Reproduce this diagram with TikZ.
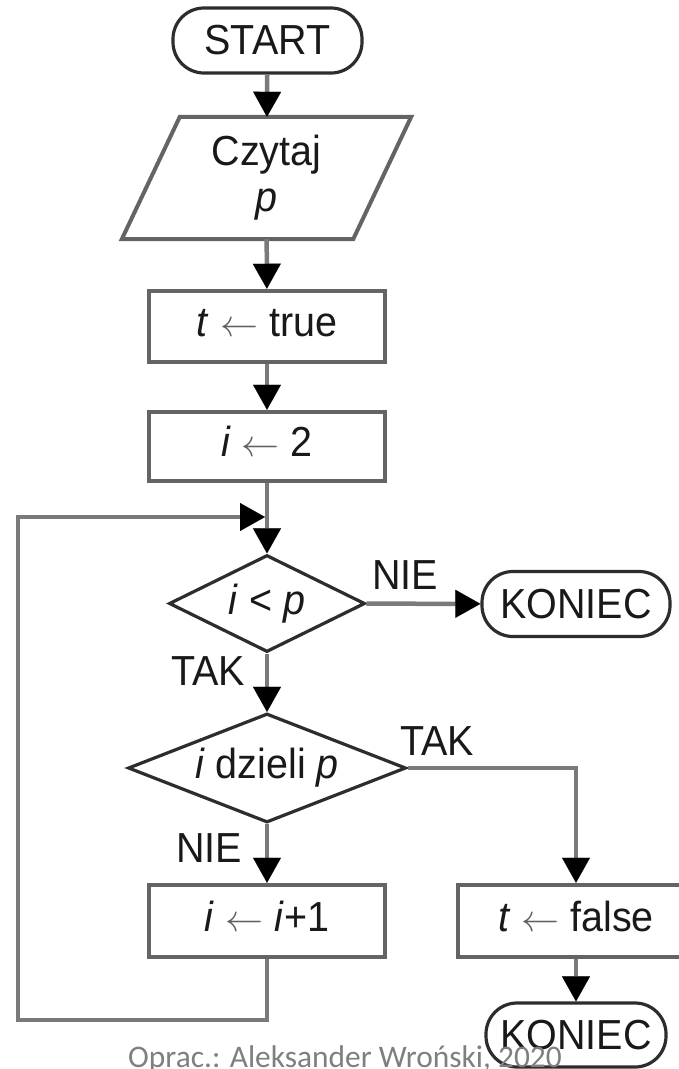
\documentclass[tikz,border=0pt]{standalone}
\usepackage{graphicx}
\usepackage{fontspec}
\setmainfont[FakeStretch=0.94]{Liberation Sans}
\newfontfamily\footfont{Carlito}
\usetikzlibrary{arrows.meta,shapes.geometric}

\definecolor{linegray}{RGB}{122,122,122}
\definecolor{boxedge}{RGB}{100,100,100}
\definecolor{edgedark}{RGB}{45,45,45}
\definecolor{footgray}{RGB}{127,127,127}
\definecolor{textdark}{RGB}{25,25,25}
\definecolor{arrowgray}{RGB}{95,95,95}

% assignment arrow used inside the process boxes
\newcommand{\asg}{{\color{arrowgray}\scalebox{3.8}{\fontsize{10}{12}\selectfont$\leftarrow$}}}

\tikzset{
  every node/.style={font=\fontsize{42}{46}\selectfont, text=textdark, inner sep=0pt},
  stadium/.style={draw=edgedark, line width=3.2pt, rounded corners=31pt,
    minimum height=65pt, fill=white},
  procbox/.style={draw=boxedge, line width=4.5pt, minimum width=236pt,
    minimum height=71pt, text height=26pt, text depth=6pt},
  decision/.style={diamond, draw=edgedark, line width=3.2pt},
  link/.style={draw=linegray, line width=4.5pt},
  flow/.style={link, -{Triangle[length=25pt,width=28pt,line width=0.1pt,color=black]}},
}

\begin{document}
\begin{tikzpicture}[x=1pt,y=-1pt]
  \fill[white] (0,0) rectangle (679,1069);
  \clip (0,0) rectangle (679,1069);

  % main column
  \node[stadium, minimum width=189pt] (start) at (267.5,40.5) {START};
  \node[minimum width=231pt, minimum height=122pt, align=center] (read) at (266.5,178)
    {Czytaj\\\textit{p}};
  \draw[draw=boxedge, line width=4pt]
    ([xshift=29pt]read.north west) -- ([xshift=29pt]read.north east)
    -- ([xshift=-29pt]read.south east) -- ([xshift=-29pt]read.south west) -- cycle;
  \node[procbox] (init) at (267,326.5) {\textit{t} \asg{} true};
  \node[procbox, minimum height=69pt] (first) at (267,446.5) {\textit{i} \asg{} 2};
  \node[decision, shape aspect=2, minimum width=196pt, minimum height=97pt] (test)
    at (267,603.5) {\textit{i} < \textit{p}};
  \node[decision, shape aspect=2.55, minimum width=278pt, minimum height=109pt] (divides)
    at (267,768) {\textit{i} dzieli \textit{p}};
  \node[procbox, minimum height=72pt] (next) at (267,921) {\textit{i} \asg{} \textit{i}+1};

  % right column
  \node[stadium, minimum width=188pt] (stopA) at (576,604) {KONIEC};
  \node[procbox, minimum height=72pt] (notprime) at (576,921) {\textit{t} \asg{} false};
  \node[stadium, minimum width=180pt, minimum height=64pt] (stopB) at (576,1035) {KONIEC};

  % branch labels
  \node (noA) at (405,575) {NIE};
  \node (yesA) at (208,671) {TAK};
  \node (yesB) at (437,741) {TAK};
  \node (noB) at (209,848) {NIE};

  % connectors
  \draw[flow] (start) -- (read);
  \draw[flow] (read) -- (init);
  \draw[flow] (init) -- (first);
  \draw[flow] (first) -- (test);
  \draw[flow] (test) -- (stopA);
  \draw[flow] (test) -- (divides);
  \draw[flow] (divides) -- (next);
  \draw[flow] (divides.east) -| (notprime.north);
  \draw[flow] (notprime) -- (stopB);

  % loop back to the test
  \coordinate (loopbot) at (18,1020);
  \coordinate (looptop) at (18,517);
  \coordinate (loopin) at (265,517);
  \draw[flow] (next.south) |- (loopbot) -- (looptop) -- (loopin);

  % credit line
  \node[font=\footfont\fontsize{31.4}{34}\selectfont, text=footgray, anchor=base west]
    (credit) at (128,1067) {Oprac.: Aleksander Wroński, 2020};
\end{tikzpicture}
\end{document}
